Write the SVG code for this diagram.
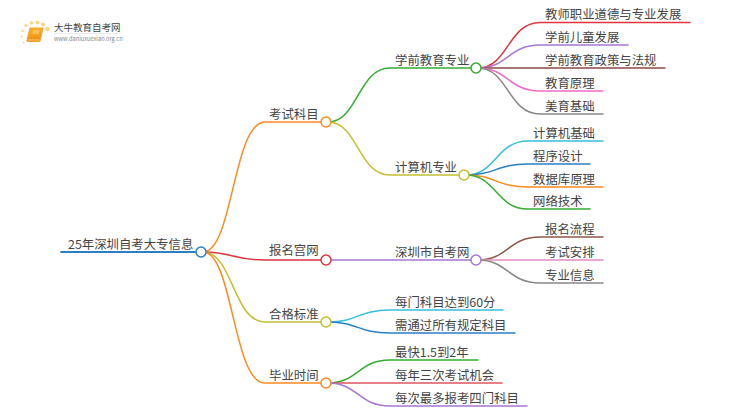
<svg xmlns="http://www.w3.org/2000/svg" width="750" height="410" viewBox="0 0 750 410">
<defs><linearGradient id="book" x1="0" y1="0" x2="0" y2="1"><stop offset="0" stop-color="#f9b32c"/><stop offset="1" stop-color="#ee8a12"/></linearGradient></defs>
<style>
text{font-family:"Noto Sans CJK SC","Noto Sans",sans-serif;font-size:12.4px;fill:#444}
.l{fill:none;stroke-width:1.5;stroke-linecap:round}
.n{fill:#fff;stroke-width:1.5}
</style>
<rect width="750" height="410" fill="#fff"/>
<g id="logo">
<g fill="#fbd680"><circle cx="47.500" cy="29" r="2.300"/><circle cx="43" cy="24.500" r="1.900"/><circle cx="37.500" cy="22.500" r="1.900"/><circle cx="31.500" cy="23" r="1.800"/><circle cx="26" cy="25.500" r="1.600"/><circle cx="22.500" cy="31" r="1.300"/><circle cx="21.500" cy="36.500" r="1.100"/><circle cx="23.500" cy="42.500" r="1"/></g>
<path d="M30 28H43L40 41.500H27.500Q26.500 41.500 27 40Z" fill="url(#book)" stroke="#f5a52c" stroke-width="1"/>
<path d="M28 40H39.500" stroke="#ffe9c0" stroke-width=".7"/>
<path d="M33 31H39.500M32.500 33H39" stroke="#ffe2a0" stroke-width=".8"/>
<text x="54" y="31" style="font-size:9.500px;fill:#444">大牛教育自考网</text>
<path d="M54 33.500H121" stroke="#ddd" stroke-width=".6"/>
<text x="54" y="40.500" style="font-size:5.700px;fill:#888">www.daniuxuexiao.org.cn</text>
</g>
<g id="connectors">
<path class="l" stroke="#2b7fc3" style="stroke-width:1.800" d="M61 252H195"/>
<path class="l" stroke="#ff8a1f" d="M203 252C233 252 233 122 265 122H321"/>
<path class="l" stroke="#e0353f" d="M203 252C233 252 233 260 265 260H321"/>
<path class="l" stroke="#c4bf30" d="M203 252C233 252 233 322 265 322H321"/>
<path class="l" stroke="#ff8a1f" d="M203 252C233 252 233 383 265 383H321"/>
<path class="l" stroke="#35ac35" d="M328 122C358 122 358 68 390 68H471"/>
<path class="l" stroke="#c4bf30" d="M328 122C358 122 358 175 390 175H459"/>
<path class="l" stroke="#a678d4" d="M331 260H471"/>
<path class="l" stroke="#35c0d8" d="M328 322C358 322 358 310 390 310H503"/>
<path class="l" stroke="#2b7fc3" d="M328 322C358 322 358 333 390 333H515"/>
<path class="l" stroke="#35ac35" d="M328 383C358 383 358 360 390 360H478"/>
<path class="l" stroke="#e0555f" d="M331 383H502"/>
<path class="l" stroke="#a678d4" d="M328 383C358 383 358 406 390 406H527"/>
<path class="l" stroke="#e0353f" d="M478 68C508 68 508 22.500 540 22.500H690"/>
<path class="l" stroke="#a678d4" d="M478 68C508 68 508 45 540 45H628"/>
<path class="l" stroke="#8c4a44" d="M481 68H665"/>
<path class="l" stroke="#ee6cc8" d="M478 68C508 68 508 91 540 91H603"/>
<path class="l" stroke="#888" d="M478 68C508 68 508 114 540 114H603"/>
<path class="l" stroke="#35c0d8" d="M466 175C496 175 496 141 528 141H603"/>
<path class="l" stroke="#2b7fc3" d="M466 175C496 175 496 164 528 164H590"/>
<path class="l" stroke="#ff8a1f" d="M466 175C496 175 496 187 528 187H603"/>
<path class="l" stroke="#35ac35" d="M466 175C496 175 496 209 528 209H590"/>
<path class="l" stroke="#8c5a4a" d="M478 260C508 260 508 237 540 237H603"/>
<path class="l" stroke="#e48cc8" d="M481 260H603"/>
<path class="l" stroke="#888" d="M478 260C508 260 508 283 540 283H603"/>
</g>
<g id="root"><text x="68" y="249">25年深圳自考大专信息</text><circle class="n" stroke="#2b7fc3" cx="201" cy="252" r="5"/></g>
<g id="n1"><text x="269" y="119">考试科目</text><circle class="n" stroke="#ff8a1f" cx="326" cy="122" r="5"/></g>
<g id="n2"><text x="269" y="255">报名宫网</text><circle class="n" stroke="#e0353f" cx="326" cy="260" r="5"/></g>
<g id="n3"><text x="269" y="319">合格标准</text><circle class="n" stroke="#c4bf30" cx="326" cy="322" r="5"/></g>
<g id="n4"><text x="269" y="380">毕业时间</text><circle class="n" stroke="#ff8a1f" cx="326" cy="383" r="5"/></g>
<g id="n5"><text x="395" y="65">学前教育专业</text><circle class="n" stroke="#35ac35" cx="476" cy="68" r="5"/></g>
<g id="n6"><text x="395" y="172">计算机专业</text><circle class="n" stroke="#c4bf30" cx="464" cy="175" r="5"/></g>
<g id="n7"><text x="395" y="257">深圳市自考网</text><circle class="n" stroke="#a678d4" cx="476" cy="260" r="5"/></g>
<g id="leaves">
<text x="545" y="19">教师职业道德与专业发展</text>
<text x="545" y="42">学前儿童发展</text>
<text x="545" y="65">学前教育政策与法规</text>
<text x="545" y="88">教育原理</text>
<text x="545" y="111">美育基础</text>
<text x="533" y="138">计算机基础</text>
<text x="533" y="161">程序设计</text>
<text x="533" y="184">数据库原理</text>
<text x="533" y="206">网络技术</text>
<text x="545" y="234">报名流程</text>
<text x="545" y="257">考试安排</text>
<text x="545" y="280">专业信息</text>
<text x="395" y="307">每门科目达到60分</text>
<text x="395" y="330">需通过所有规定科目</text>
<text x="395" y="357">最快1.5到2年</text>
<text x="395" y="380">每年三次考试机会</text>
<text x="395" y="403">每次最多报考四门科目</text>
</g>
</svg>
